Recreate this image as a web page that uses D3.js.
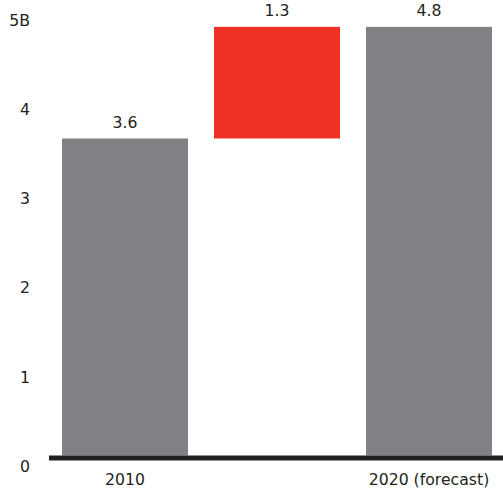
<!DOCTYPE html>
<html>
<head>
<meta charset="utf-8">
<script src="https://cdn.jsdelivr.net/npm/d3@7"></script>
<style>
  html, body { margin: 0; padding: 0; background: #fff; }
  svg { display: block; }
  text { font-family: "DejaVu Sans", sans-serif; fill: #231f20; }
</style>
</head>
<body>
<svg id="chart" width="503" height="494"></svg>
<script>
const categories = ["2010", "Increase", "2020 (forecast)"];
const categoryLabels = ["2010", "", "2020 (forecast)"];
const barStarts = [0, 3.55, 0];
const barEnds = [3.55, 4.8, 4.8];
const valueLabels = ["3.6", "1.3", "4.8"];
const barColors = ["#808184", "#ee3124", "#808184"];
const yTickValues = [0, 1, 2, 3, 4, 5];
const yTickLabels = ["0", "1", "2", "3", "4", "5B"];

const FONT = "'DejaVu Sans', sans-serif";
const FS = 15.7;
const svg = d3.select("#chart");
const W = 503, H = 494;

const x = d3.scaleBand()
  .domain(categories)
  .range([49, 505])
  .paddingInner(26 / 152)
  .paddingOuter(13 / 152);

const y = d3.scaleLinear()
  .domain([0, 5])
  .range([455.5, 9]);

const bars = categories.map((c, i) => ({
  cat: c, start: barStarts[i], end: barEnds[i], label: valueLabels[i], color: barColors[i]
}));

// Bars
svg.append("g").selectAll("rect")
  .data(bars)
  .join("rect")
  .attr("x", d => x(d.cat))
  .attr("width", x.bandwidth())
  .attr("y", d => y(d.end))
  .attr("height", d => y(d.start) - y(d.end))
  .attr("fill", d => d.color);

// Value labels
svg.append("g").selectAll("text")
  .data(bars)
  .join("text")
  .attr("x", d => x(d.cat) + x.bandwidth() / 2)
  .attr("y", d => y(d.end) - 10.5)
  .attr("text-anchor", "middle")
  .attr("font-size", FS)
  .attr("font-family", FONT)
  .text(d => d.label);

// Y axis (labels only)
const yAxis = d3.axisLeft(y)
  .tickValues(yTickValues)
  .tickFormat((d, i) => yTickLabels[i])
  .tickSize(0)
  .tickPadding(0);
const yg = svg.append("g").attr("transform", "translate(30,0)").call(yAxis);
yg.select(".domain").remove();
yg.selectAll("text")
  .attr("font-size", FS)
  .attr("font-family", FONT)
  .attr("fill", "#231f20")
  .attr("dy", "16");

// X axis
const xAxis = d3.axisBottom(x)
  .tickFormat((d, i) => categoryLabels[i])
  .tickSize(0)
  .tickPadding(0);
const xg = svg.append("g").attr("transform", `translate(0,${y(0)})`).call(xAxis);
xg.select(".domain").remove();
xg.selectAll("text")
  .attr("font-size", FS)
  .attr("font-family", FONT)
  .attr("fill", "#231f20")
  .attr("y", 0)
  .attr("dy", 29);

// Baseline
svg.append("rect")
  .attr("x", 49)
  .attr("y", y(0))
  .attr("width", W - 49)
  .attr("height", 5)
  .attr("fill", "#231f20");
</script>
</body>
</html>
